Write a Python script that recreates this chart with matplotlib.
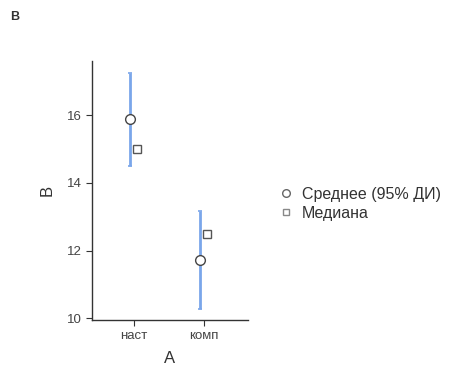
import matplotlib
matplotlib.use("Agg")
import matplotlib.pyplot as plt
from matplotlib.lines import Line2D

# data
groups = ["наст", "комп"]
means = [15.89, 11.71]
ci_low = [14.51, 10.27]
ci_high = [17.25, 13.18]
medians = [15.0, 12.5]

plt.rcParams['font.family'] = ['Liberation Sans', 'DejaVu Sans']

fig = plt.figure(figsize=(4.53, 3.67), dpi=100)
ax = fig.add_axes([0.203, 0.128, 0.344, 0.706])

xs = [i + 1 for i in range(len(groups))]
err_lo = [m - l for m, l in zip(means, ci_low)]
err_hi = [h - m for m, h in zip(means, ci_high)]

ax.errorbar([x - 0.05 for x in xs], means, yerr=[err_lo, err_hi], fmt='none',
            ecolor='#7aa6ea', elinewidth=2, capsize=1.2, capthick=1.2, zorder=2)
ax.plot([x - 0.05 for x in xs], means, 'o', ms=7, mfc='white', mec='#444444',
        mew=1.0, zorder=3)
ax.plot([x + 0.05 for x in xs], medians, 's', ms=6, mfc='white', mec='#555555',
        mew=1.0, zorder=3)

ax.set_xlim(0.4, 2.63)
ax.set_ylim(9.95, 17.6)
ax.set_xticks(xs)
ax.set_xticklabels(groups)
ax.set_yticks([10, 12, 14, 16])

for side in ['top', 'right']:
    ax.spines[side].set_visible(False)
for side in ['left', 'bottom']:
    ax.spines[side].set_color('#333333')
    ax.spines[side].set_linewidth(1.0)
ax.tick_params(colors='#333333', labelsize=9.5, length=4, labelcolor='#444444')

ax.set_xlabel("A", fontsize=12, color='#333333', labelpad=6.5)
ax.set_ylabel("B", fontsize=12, color='#333333', labelpad=9)

fig.text(0.022, 0.945, "B", fontsize=9, fontweight='bold', color='#333333')

handles = [
    Line2D([], [], ls='none', marker='o', ms=5.5, mfc='white', mec='#666666', mew=1.0),
    Line2D([], [], ls='none', marker='s', ms=5, mfc='white', mec='#888888', mew=1.0),
]
fig.legend(handles, ["Среднее (95% ДИ)", "Медиана"], loc='center left',
           bbox_to_anchor=(0.585, 0.445), frameon=False, fontsize=11.5,
           handlelength=0.8, handletextpad=0.6, labelspacing=0.25,
           labelcolor='#333333')

fig.savefig("out.png", dpi=100)
